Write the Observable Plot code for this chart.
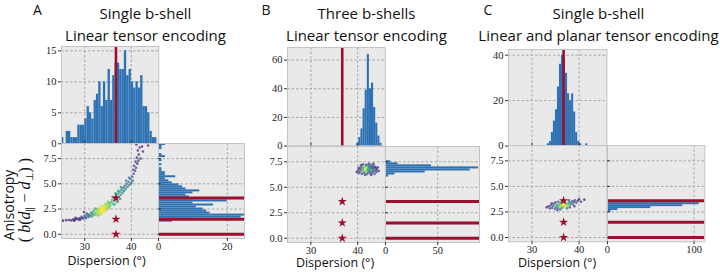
<!DOCTYPE html>
<html><head><meta charset="utf-8">
<script src="https://cdn.jsdelivr.net/npm/d3@7"></script>
<script src="https://cdn.jsdelivr.net/npm/@observablehq/plot@0.6"></script>
<style>
body{margin:0;background:#fff;}
#fig{position:relative;width:720px;height:275px;overflow:hidden;background:#fff;}
</style></head><body><div id="fig"></div>
<script>
// ---------------- DATA ----------------
const panelLetters = ["A", "B", "C"];
const titleLine1 = ["Single b-shell", "Three b-shells", "Single b-shell"];
const titleLine2 = ["Linear tensor encoding", "Linear tensor encoding", "Linear and planar tensor encoding"];
const xLabel = "Dispersion (°)";
const yLabel = "Anisotropy";
const trueDispersion = 36.7;
const trueAnisotropy = [3.6, 1.5, 0.0];
const dispTicks = [30, 40];
const anisoTicks = [0, 2.5, 5, 7.5];
const topCountTicks = [[0, 5, 10, 15], [0, 20, 40, 60], [0, 20, 40]];
const rightCountTicks = [[0, 20], [0, 50], [0, 100]];

// dispersion histograms (top): first bin edge, bin width, counts
const dispStart = [25.0, 39.8, 33.25];
const dispWidth = [0.5, 0.45, 0.43];
const dispCountsA = [1,0,2,2,1,1,1,3,3,3,4,6,5,4,7,8,10,6,10,7,12,7,11,13,13,12,12,15,11,12,10,9,10,9,11,6,6,5,2,1,1];
const dispCountsB = [2,6,12,26,39,64,40,44,27,16,7,2];
const dispCountsC = [1,2,6,11,16,26,36,40,38,32,23,20,23,15,6,2,1,0,0,1];

// anisotropy histograms (right): first bin edge, bin width, counts
const anisoStart = [1.2, 6.0, 2.45];
const anisoWidth = [0.2, 0.2, 0.19];
const anisoCountsA = [4,10,24,25,15,14,13,11,16,10,20,10,9,8,10,12,8,7,6,4,3,2,5,2,2,1,1,0,1,0,1,0,2,1,0,0,1,1,2];
const anisoCountsB = [3,9,38,81,89,44,12,5];
const anisoCountsC = [4,12,50,87,106,33];

// scatter estimates: [dispersion, anisotropy, relative density]
const pointsA = [
[25.3,1.35,0.05],[26.0,1.4,0.08],[26.6,1.42,0.1],[27.1,1.38,0.1],[27.5,1.48,0.12],[27.9,1.42,0.12],[28.2,1.55,0.14],[28.5,1.48,0.15],[28.8,1.58,0.16],[29.1,1.52,0.18],[29.4,1.62,0.2],[29.7,1.56,0.22],[28.9,1.42,0.14],[28.0,1.62,0.12],[27.7,1.35,0.1],[29.3,1.72,0.2],
[30.0,1.68,0.28],[30.3,1.6,0.3],[30.6,1.8,0.35],[30.9,1.72,0.38],[31.2,1.9,0.45],[31.5,1.75,0.5],[31.7,2.0,0.55],[30.8,1.95,0.3],[31.4,2.15,0.4],[30.4,2.05,0.22],[30.0,1.85,0.25],[29.8,2.2,0.15],
[32.0,1.9,0.7],[32.2,2.1,0.78],[32.4,1.95,0.75],[32.6,2.2,0.85],[32.8,2.05,0.85],[33.0,2.3,0.92],[33.1,2.0,0.88],[33.3,2.4,0.96],[33.4,2.15,0.95],[33.6,2.5,1.0],[33.7,2.25,1.0],[33.9,2.6,1.0],[34.0,2.35,0.98],[34.2,2.7,0.95],[34.3,2.45,0.95],[34.5,2.8,0.9],[34.6,2.55,0.9],[34.8,2.9,0.85],[34.9,2.65,0.85],[35.1,3.0,0.78],[35.2,2.75,0.8],[35.4,3.1,0.72],[35.5,2.85,0.75],[32.5,2.45,0.8],[33.2,2.62,0.9],[33.8,2.82,0.92],[34.4,3.02,0.85],[35.0,3.22,0.75],[32.9,1.85,0.8],[33.5,2.0,0.9],[34.1,2.2,0.92],[34.7,2.38,0.88],[35.3,2.6,0.8],[33.0,2.5,0.9],[34.0,2.55,1.0],[31.9,2.3,0.6],[32.3,2.55,0.65],
[35.7,3.2,0.68],[35.9,3.4,0.65],[36.1,3.0,0.68],[36.3,3.6,0.62],[36.5,3.3,0.64],[36.7,3.8,0.6],[36.9,3.5,0.6],[37.1,4.0,0.56],[37.3,3.7,0.56],[37.5,4.2,0.52],[37.7,3.9,0.52],[37.9,4.4,0.48],[38.1,4.1,0.48],[38.3,4.6,0.44],[36.0,3.7,0.6],[36.6,4.05,0.55],[37.2,4.3,0.5],[37.8,4.65,0.45],[38.4,4.3,0.45],[36.4,2.95,0.6],[37.0,3.2,0.55],[37.6,3.5,0.5],
[38.6,4.8,0.42],[38.8,4.5,0.42],[39.0,5.0,0.38],[39.2,4.7,0.38],[39.4,5.2,0.35],[39.6,4.9,0.35],[39.8,5.5,0.3],[40.0,5.1,0.3],[40.2,5.7,0.26],[38.9,5.3,0.35],[39.5,5.6,0.3],[40.3,5.3,0.26],
[40.5,6.0,0.22],[40.8,6.3,0.2],[41.0,6.6,0.18],[40.6,6.8,0.15],[41.3,7.0,0.15],[41.5,7.3,0.14],[41.2,7.6,0.12],[41.6,7.9,0.12],[42.0,7.5,0.12],[41.4,8.3,0.1],[41.8,8.6,0.1],[42.3,8.7,0.1],[43.6,8.8,0.08],[41.1,8.9,0.08],[42.5,8.2,0.1],[40.9,7.2,0.15],[40.4,6.4,0.2]
];
const pointsB = [
[39.8,6.5,0.1],[40.1,6.65,0.15],[40.3,6.4,0.15],[40.5,6.8,0.2],[40.6,6.55,0.25],[40.8,6.95,0.25],[40.9,6.3,0.2],[41.0,6.7,0.5],[41.2,6.85,0.7],[41.3,6.5,0.65],[41.4,7.0,0.75],[41.5,6.65,0.9],[41.6,6.8,1.0],[41.7,7.1,0.7],[41.8,6.55,0.85],[41.9,6.95,0.9],[42.0,6.7,0.8],[42.1,7.15,0.5],[42.2,6.45,0.5],[42.3,6.9,0.5],[42.4,6.6,0.4],[42.5,7.05,0.35],[42.6,6.35,0.3],[42.7,6.8,0.35],[42.8,6.55,0.3],[42.9,7.2,0.25],[43.0,6.95,0.3],[43.1,6.4,0.25],[43.2,6.7,0.3],[43.3,7.1,0.25],[43.4,6.55,0.25],[43.5,6.85,0.25],[43.6,6.3,0.2],[43.7,7.0,0.2],[43.8,6.65,0.2],[43.9,6.9,0.2],[44.0,6.5,0.15],[44.1,6.75,0.18],[44.3,6.95,0.15],[44.5,6.6,0.1],[40.7,7.15,0.15],[41.1,7.25,0.15],[42.4,7.3,0.15],[41.6,6.2,0.15],[42.9,6.2,0.15],[43.4,7.3,0.12],[40.2,6.9,0.1],[42.0,6.3,0.3],[42.6,7.0,0.45],[43.2,6.9,0.3],[41.8,7.2,0.35],[42.2,6.75,0.6],[41.4,6.4,0.4]
];
const pointsC = [
[33.1,2.95,0.1],[33.5,3.05,0.12],[33.8,2.85,0.15],[34.0,3.15,0.2],[34.3,2.9,0.2],[34.5,3.1,0.3],[34.7,3.3,0.25],[34.9,2.8,0.25],[35.1,3.0,0.45],[35.3,3.2,0.5],[35.5,2.9,0.45],[35.7,3.1,0.7],[35.9,3.3,0.65],[36.1,3.0,0.8],[36.3,3.2,0.9],[36.5,3.1,1.0],[36.7,3.25,1.0],[36.9,3.05,0.95],[37.1,3.2,0.95],[37.3,3.35,0.85],[37.5,3.1,0.8],[37.7,3.3,0.7],[37.9,3.45,0.55],[38.1,3.2,0.5],[38.3,3.4,0.4],[38.5,3.55,0.3],[38.7,3.25,0.3],[38.9,3.5,0.25],[39.1,3.65,0.2],[39.4,3.4,0.18],[39.7,3.6,0.15],[40.0,3.75,0.12],[40.4,3.5,0.1],[41.1,3.7,0.08],[35.0,3.45,0.2],[36.0,2.75,0.3],[36.8,3.5,0.5],[37.4,2.85,0.4],[35.6,3.5,0.25],[38.0,2.95,0.2],[36.4,2.9,0.6],[37.0,3.4,0.7],[34.2,3.35,0.12],[37.8,3.65,0.2],[39.0,3.05,0.12],[36.2,3.45,0.5],[36.6,2.95,0.8],[35.4,2.7,0.15]
];

// ---------------- LAYOUT / STYLE ----------------
const W = 720, H = 275;
const dispDomain = [25, 45.9];
const anisoDomain = [-0.42, 9.0];
const topMax = [15.7, 68.8, 42.5];
const rightMax = [25.0, 90, 112.4];
const geo = [
  {fx: 60.7, fw: 97.3, topT: 46, midT: 143.3, botB: 238.3, rw: 86},
  {fx: 286.7, fw: 97.8, topT: 47, midT: 145.6, botB: 241.6, rw: 94},
  {fx: 508.3, fw: 98.4, topT: 48.7, midT: 145.3, botB: 241.6, rw: 97.3}
];
const C = {bg: "#e9e9e9", frame: "#c4c4c4", grid: "#a8a8a8", blue: "#2e72b4", red: "#9c0f2e", tick: "#333", text: "#222"};
const M = {l: 34, r: 6, t: 6, b: 24};
const dash = "2.5,2";
const tickFont = {fontFamily: "'Liberation Serif', 'DejaVu Serif', serif", fontSize: "10.5px", color: C.text, background: "transparent", overflow: "visible"};

const fig = document.getElementById("fig");
function place(svg, left, top) {
  svg.style.position = "absolute";
  svg.style.left = left + "px";
  svg.style.top = top + "px";
  svg.style.maxWidth = "none";
  fig.appendChild(svg);
}

const dispCounts = [dispCountsA, dispCountsB, dispCountsC];
const anisoCounts = [anisoCountsA, anisoCountsB, anisoCountsC];
const points = [pointsA, pointsB, pointsC];

for (let p = 0; p < 3; p++) {
  const g = geo[p];
  // --- top histogram (dispersion)
  const binsTop = dispCounts[p].map((c, i) => ({x1: dispStart[p] + i * dispWidth[p], x2: dispStart[p] + (i + 1) * dispWidth[p], c}));
  const hTop = g.midT - g.topT;
  const top = Plot.plot({
    width: g.fw + M.l + M.r, height: hTop + M.t + M.b,
    marginLeft: M.l, marginRight: M.r, marginTop: M.t, marginBottom: M.b,
    x: {domain: dispDomain, axis: null}, y: {domain: [0, topMax[p]]},
    style: tickFont,
    marks: [
      Plot.frame({fill: C.bg, stroke: null}),
      Plot.gridX({ticks: dispTicks, stroke: C.grid, strokeOpacity: 1, strokeDasharray: dash}),
      Plot.gridY({ticks: topCountTicks[p], stroke: C.grid, strokeOpacity: 1, strokeDasharray: dash}),
      Plot.rectY(binsTop.filter(d => d.c > 0), {x1: "x1", x2: "x2", y: "c", fill: C.blue, inset: 0}),
      Plot.ruleX([trueDispersion], {stroke: C.red, strokeWidth: 2.6}),
      Plot.frame({stroke: C.frame}),
      Plot.tickX(dispTicks, {x: d => d, stroke: C.tick, insetTop: hTop - 3}),
      Plot.axisY({ticks: topCountTicks[p], tickSize: 3, tickPadding: 2, label: null, stroke: C.tick})
    ]
  });
  place(top, g.fx - M.l, g.topT - M.t);

  // --- scatter
  const hSc = g.botB - g.midT;
  const pts = points[p].map(([x, y, d]) => ({x, y, d}));
  const sc = Plot.plot({
    width: g.fw + M.l + M.r, height: hSc + M.t + M.b,
    marginLeft: M.l, marginRight: M.r, marginTop: M.t, marginBottom: M.b,
    x: {domain: dispDomain}, y: {domain: anisoDomain},
    color: {type: "sequential", scheme: "viridis", domain: [0, 1]},
    style: tickFont,
    marks: [
      Plot.frame({fill: C.bg, stroke: null}),
      Plot.gridX({ticks: dispTicks, stroke: C.grid, strokeOpacity: 1, strokeDasharray: dash}),
      Plot.gridY({ticks: anisoTicks, stroke: C.grid, strokeOpacity: 1, strokeDasharray: dash}),
      Plot.dot(pts, {x: "x", y: "y", r: 1.3, fill: "d", fillOpacity: 0.75, stroke: null}),
      Plot.dot(trueAnisotropy, {x: () => trueDispersion, y: d => d, symbol: "star", r: 2.9, fill: C.red, stroke: null}),
      Plot.frame({stroke: C.frame}),
      Plot.axisY({ticks: anisoTicks, tickFormat: d3.format(".1f"), tickSize: 3, tickPadding: 2, label: null, stroke: C.tick}),
      Plot.axisX({ticks: dispTicks, tickSize: 3, tickPadding: 1, label: null, stroke: C.tick})
    ]
  });
  place(sc, g.fx - M.l, g.midT - M.t);

  // --- right histogram (anisotropy)
  const binsR = anisoCounts[p].map((c, i) => ({y1: anisoStart[p] + i * anisoWidth[p], y2: anisoStart[p] + (i + 1) * anisoWidth[p], c}));
  const rt = Plot.plot({
    width: g.rw + M.l + M.r, height: hSc + M.t + M.b,
    marginLeft: M.l, marginRight: M.r, marginTop: M.t, marginBottom: M.b,
    x: {domain: [0, rightMax[p]]}, y: {domain: anisoDomain, axis: null},
    style: tickFont,
    marks: [
      Plot.frame({fill: C.bg, stroke: null}),
      Plot.gridX({ticks: rightCountTicks[p], stroke: C.grid, strokeOpacity: 1, strokeDasharray: dash}),
      Plot.gridY({ticks: anisoTicks, stroke: C.grid, strokeOpacity: 1, strokeDasharray: dash}),
      Plot.rectX(binsR.filter(d => d.c > 0), {y1: "y1", y2: "y2", x: "c", fill: C.blue, inset: 0}),
      Plot.ruleY(trueAnisotropy, {stroke: C.red, strokeWidth: 3}),
      Plot.frame({stroke: C.frame}),
      Plot.tickY(anisoTicks, {y: d => d, stroke: C.tick, insetRight: g.rw - 3}),
      Plot.axisX({ticks: rightCountTicks[p], tickSize: 3, tickPadding: 1, label: null, stroke: C.tick})
    ]
  });
  place(rt, g.fx + g.fw - M.l, g.midT - M.t);
}

// ---------------- TEXT OVERLAY ----------------
const ov = d3.create("svg").attr("width", W).attr("height", H)
  .style("position", "absolute").style("left", "0px").style("top", "0px").style("pointer-events", "none");
const sans = "'Open Sans', Lato, sans-serif";
const letterX = [33, 261.5, 483.5];
const titleCX = [145.5, 366.5, 598.5];
const xLabelCX = [106.5, 335, 557];
const xLabelY = [265, 267, 267];
for (let p = 0; p < 3; p++) {
  ov.append("text").attr("x", letterX[p]).attr("y", 14.5).attr("font-family", sans).attr("font-size", 14).attr("fill", "#111").text(panelLetters[p]);
  ov.append("text").attr("x", titleCX[p]).attr("y", 18.5).attr("text-anchor", "middle").attr("font-family", sans).attr("font-size", 15).attr("fill", "#111").text(titleLine1[p]);
  ov.append("text").attr("x", titleCX[p]).attr("y", 41).attr("text-anchor", "middle").attr("font-family", sans).attr("font-size", 15).attr("fill", "#111").text(titleLine2[p]);
  ov.append("text").attr("x", xLabelCX[p]).attr("y", xLabelY[p]).attr("text-anchor", "middle").attr("font-family", sans).attr("font-size", 12.5).attr("fill", "#111").text(xLabel);
}
ov.append("text").attr("transform", "translate(13.5,205) rotate(-90)").attr("text-anchor", "middle")
  .attr("font-family", sans).attr("font-size", 14).attr("fill", "#111").text(yLabel);
const t2 = ov.append("text").attr("transform", "translate(29.5,200) rotate(-90)").attr("text-anchor", "middle")
  .attr("font-family", "'Liberation Serif', serif").attr("font-size", 16).attr("fill", "#111");
t2.append("tspan").text("( ");
t2.append("tspan").attr("font-style", "italic").text("b");
t2.append("tspan").text("(");
t2.append("tspan").attr("font-style", "italic").text("d");
t2.append("tspan").attr("font-size", 10).attr("dy", 3).text("∥");
t2.append("tspan").attr("dy", -3).text(" − ");
t2.append("tspan").attr("font-style", "italic").text("d");
t2.append("tspan").attr("font-size", 10).attr("dy", 3).text("⊥");
t2.append("tspan").attr("dy", -3).text(") )");
fig.appendChild(ov.node());
</script></body></html>
